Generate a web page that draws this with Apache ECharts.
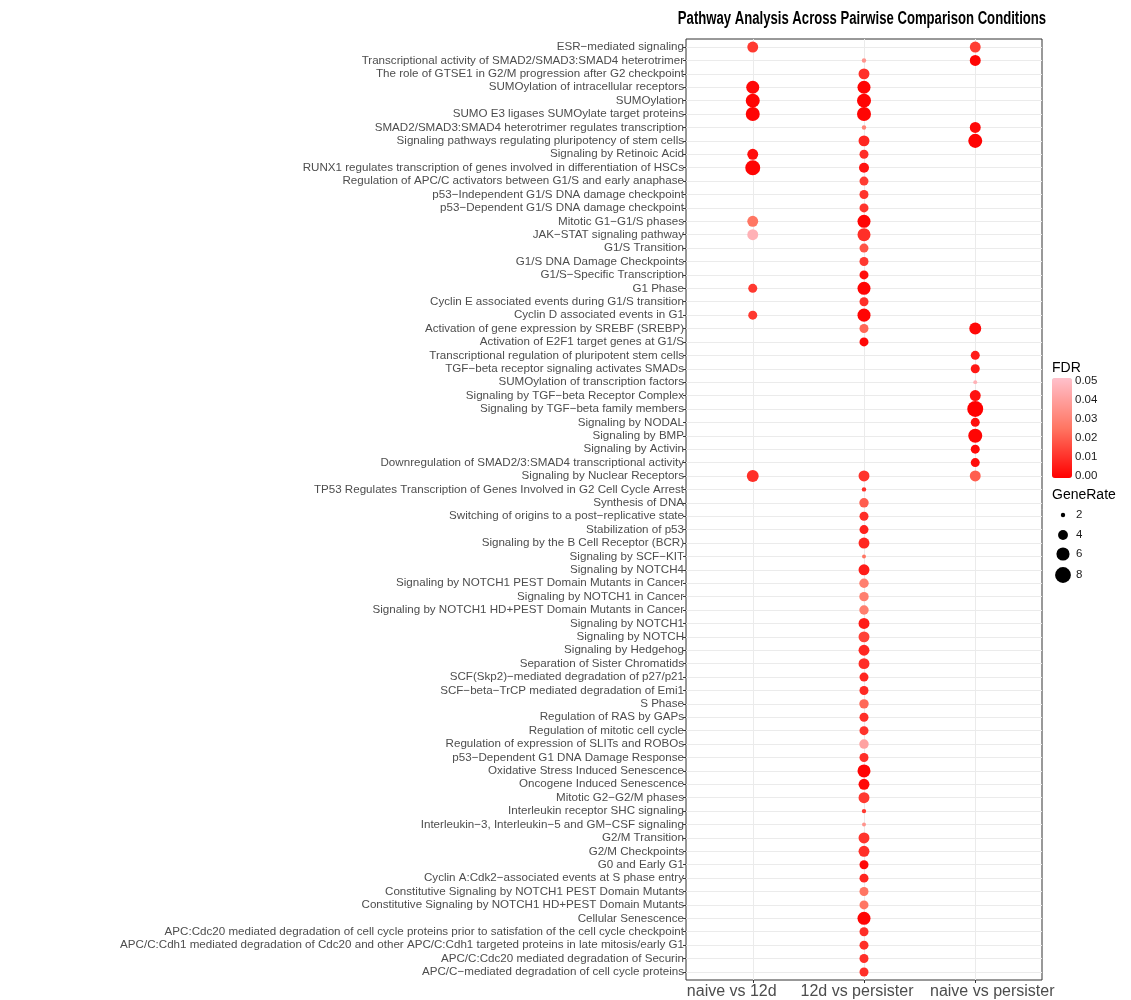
<!DOCTYPE html>
<html>
<head>
<meta charset="utf-8">
<script src="https://cdn.jsdelivr.net/npm/echarts@6/dist/echarts.min.js"></script>
<style>
  html, body { margin: 0; padding: 0; background: #fff; }
  #main { width: 1131px; height: 1000px; }
</style>
</head>
<body>
<div id="main"></div>
<script>
var conditions = ['naive vs 12d', '12d vs persister', 'naive vs persister'];

var pathways = [
  'ESR\u2212mediated signaling',
  'Transcriptional activity of SMAD2/SMAD3:SMAD4 heterotrimer',
  'The role of GTSE1 in G2/M progression after G2 checkpoint',
  'SUMOylation of intracellular receptors',
  'SUMOylation',
  'SUMO E3 ligases SUMOylate target proteins',
  'SMAD2/SMAD3:SMAD4 heterotrimer regulates transcription',
  'Signaling pathways regulating pluripotency of stem cells',
  'Signaling by Retinoic Acid',
  'RUNX1 regulates transcription of genes involved in differentiation of HSCs',
  'Regulation of APC/C activators between G1/S and early anaphase',
  'p53\u2212Independent G1/S DNA damage checkpoint',
  'p53\u2212Dependent G1/S DNA damage checkpoint',
  'Mitotic G1\u2212G1/S phases',
  'JAK\u2212STAT signaling pathway',
  'G1/S Transition',
  'G1/S DNA Damage Checkpoints',
  'G1/S\u2212Specific Transcription',
  'G1 Phase',
  'Cyclin E associated events during G1/S transition',
  'Cyclin D associated events in G1',
  'Activation of gene expression by SREBF (SREBP)',
  'Activation of E2F1 target genes at G1/S',
  'Transcriptional regulation of pluripotent stem cells',
  'TGF\u2212beta receptor signaling activates SMADs',
  'SUMOylation of transcription factors',
  'Signaling by TGF\u2212beta Receptor Complex',
  'Signaling by TGF\u2212beta family members',
  'Signaling by NODAL',
  'Signaling by BMP',
  'Signaling by Activin',
  'Downregulation of SMAD2/3:SMAD4 transcriptional activity',
  'Signaling by Nuclear Receptors',
  'TP53 Regulates Transcription of Genes Involved in G2 Cell Cycle Arrest',
  'Synthesis of DNA',
  'Switching of origins to a post\u2212replicative state',
  'Stabilization of p53',
  'Signaling by the B Cell Receptor (BCR)',
  'Signaling by SCF\u2212KIT',
  'Signaling by NOTCH4',
  'Signaling by NOTCH1 PEST Domain Mutants in Cancer',
  'Signaling by NOTCH1 in Cancer',
  'Signaling by NOTCH1 HD+PEST Domain Mutants in Cancer',
  'Signaling by NOTCH1',
  'Signaling by NOTCH',
  'Signaling by Hedgehog',
  'Separation of Sister Chromatids',
  'SCF(Skp2)\u2212mediated degradation of p27/p21',
  'SCF\u2212beta\u2212TrCP mediated degradation of Emi1',
  'S Phase',
  'Regulation of RAS by GAPs',
  'Regulation of mitotic cell cycle',
  'Regulation of expression of SLITs and ROBOs',
  'p53\u2212Dependent G1 DNA Damage Response',
  'Oxidative Stress Induced Senescence',
  'Oncogene Induced Senescence',
  'Mitotic G2\u2212G2/M phases',
  'Interleukin receptor SHC signaling',
  'Interleukin\u22123, Interleukin\u22125 and GM\u2212CSF signaling',
  'G2/M Transition',
  'G2/M Checkpoints',
  'G0 and Early G1',
  'Cyclin A:Cdk2\u2212associated events at S phase entry',
  'Constitutive Signaling by NOTCH1 PEST Domain Mutants',
  'Constitutive Signaling by NOTCH1 HD+PEST Domain Mutants',
  'Cellular Senescence',
  'APC:Cdc20 mediated degradation of cell cycle proteins prior to satisfation of the cell cycle checkpoint',
  'APC/C:Cdh1 mediated degradation of Cdc20 and other APC/C:Cdh1 targeted proteins in late mitosis/early G1',
  'APC/C:Cdc20 mediated degradation of Securin',
  'APC/C\u2212mediated degradation of cell cycle proteins'
];

// GeneRate per pathway (null = not significant in that comparison)
var geneNaive12d = [
  4.6, null, null, 5.9, 6.6, 6.6, null, null, 4.6, 7.3,
  null, null, null, 4.6, 4.6, null, null, null, 3.6, null,
  3.6, null, null, null, null, null, null, null, null, null,
  null, null, 5.2, null, null, null, null, null, null, null,
  null, null, null, null, null, null, null, null, null, null,
  null, null, null, null, null, null, null, null, null, null,
  null, null, null, null, null, null, null, null, null, null
];
var fdrNaive12d = [
  0.012, null, null, 0.002, 0.001, 0.001, null, null, 0.003, 0.001,
  null, null, null, 0.025, 0.045, null, null, null, 0.012, null,
  0.012, null, null, null, null, null, null, null, null, null,
  null, null, 0.010, null, null, null, null, null, null, null,
  null, null, null, null, null, null, null, null, null, null,
  null, null, null, null, null, null, null, null, null, null,
  null, null, null, null, null, null, null, null, null, null
];

var gene12dPersister = [
  null, 2.0, 4.6, 5.9, 6.6, 6.6, 2.0, 4.6, 3.6, 4.1,
  3.6, 3.6, 3.6, 5.9, 5.9, 3.6, 3.6, 3.6, 5.9, 3.6,
  5.9, 3.6, 3.6, null, null, null, null, null, null, null,
  null, null, 4.6, 2.0, 3.8, 3.6, 3.6, 4.6, 1.9, 4.6,
  3.8, 3.8, 3.8, 4.6, 4.6, 4.6, 4.6, 3.6, 3.6, 3.8,
  3.6, 3.6, 3.8, 3.6, 5.9, 4.6, 4.6, 2.0, 1.9, 4.6,
  4.6, 3.6, 3.6, 3.6, 3.6, 5.9, 3.6, 3.6, 3.6, 3.6
];
var fdr12dPersister = [
  null, 0.035, 0.010, 0.001, 0.001, 0.001, 0.030, 0.008, 0.010, 0.004,
  0.013, 0.011, 0.011, 0.001, 0.010, 0.018, 0.012, 0.003, 0.001, 0.010,
  0.001, 0.022, 0.002, null, null, null, null, null, null, null,
  null, null, 0.011, 0.010, 0.020, 0.010, 0.007, 0.008, 0.025, 0.006,
  0.028, 0.028, 0.028, 0.006, 0.014, 0.008, 0.010, 0.008, 0.009, 0.022,
  0.010, 0.011, 0.040, 0.010, 0.001, 0.002, 0.012, 0.012, 0.035, 0.011,
  0.010, 0.002, 0.008, 0.025, 0.025, 0.001, 0.010, 0.010, 0.010, 0.010
];

var geneNaivePersister = [
  4.6, 4.6, null, null, null, null, 4.6, 6.6, null, null,
  null, null, null, null, null, null, null, null, null, null,
  null, 5.2, null, 3.6, 3.6, 1.9, 4.6, 8.1, 3.6, 6.6,
  3.6, 3.6, 4.6, null, null, null, null, null, null, null,
  null, null, null, null, null, null, null, null, null, null,
  null, null, null, null, null, null, null, null, null, null,
  null, null, null, null, null, null, null, null, null, null
];
var fdrNaivePersister = [
  0.013, 0.001, null, null, null, null, 0.002, 0.0005, null, null,
  null, null, null, null, null, null, null, null, null, null,
  null, 0.002, null, 0.006, 0.005, 0.045, 0.004, 0.000, 0.003, 0.001,
  0.002, 0.003, 0.020, null, null, null, null, null, null, null,
  null, null, null, null, null, null, null, null, null, null,
  null, null, null, null, null, null, null, null, null, null,
  null, null, null, null, null, null, null, null, null, null
];

var fdrTicks = [0.00, 0.01, 0.02, 0.03, 0.04, 0.05];
var geneTicks = [2, 4, 6, 8];

function dotSize(g) {
  return 17 * Math.sqrt(Math.max(g - 1.5, 0) / 7.5);
}

var geneCols = [geneNaive12d, gene12dPersister, geneNaivePersister];
var fdrCols = [fdrNaive12d, fdr12dPersister, fdrNaivePersister];
var points = [];
for (var c = 0; c < conditions.length; c++) {
  for (var i = 0; i < pathways.length; i++) {
    if (geneCols[c][i] != null) {
      points.push([c, i, geneCols[c][i], fdrCols[c][i]]);
    }
  }
}

var rowIdx = pathways.map(function (p, i) { return i; });
var colIdx = conditions.map(function (p, i) { return i; });

var font = 'Liberation Sans, Arial, sans-serif';

// grid geometry
var gridLeft = 686, gridRight = 89, gridTop = 39, gridBottom = 18;
var xUnitPx = (1131 - gridLeft - gridRight) / 3.2;
// the x labels in the original sit a little off their ticks
var xLabelShiftPx = [-21, -7, 17];
var xLabelPos = colIdx.map(function (c) { return c + xLabelShiftPx[c] / xUnitPx; });

// title is a bit condensed in the original, so draw it squeezed
var graphics = [];
graphics.push({ type: 'text', x: 862, y: 19, scaleX: 0.75,
  style: { text: 'Pathway Analysis Across Pairwise Comparison Conditions',
    fontSize: 17.5, fontWeight: 'bold', fill: '#000', fontFamily: font,
    align: 'center', verticalAlign: 'middle' } });

// legend graphics (FDR bar ticks and GeneRate keys)
var barTop = 378, barH = 100, barLeft = 1052, barW = 20;
graphics.push({ type: 'text', left: 1052, top: 361,
  style: { text: 'FDR', fontSize: 14, fill: '#000', fontFamily: font } });
fdrTicks.forEach(function (t) {
  var y = 476 - t / 0.05 * 95;
  graphics.push({ type: 'line', shape: { x1: barLeft, y1: y, x2: barLeft + 4, y2: y },
    style: { stroke: '#fff', lineWidth: 1 } });
  graphics.push({ type: 'line', shape: { x1: barLeft + barW - 4, y1: y, x2: barLeft + barW, y2: y },
    style: { stroke: '#fff', lineWidth: 1 } });
  graphics.push({ type: 'text', x: 1075, y: y,
    style: { text: t.toFixed(2), fontSize: 11.5, fill: '#1A1A1A', verticalAlign: 'middle',
      fontFamily: font } });
});
graphics.push({ type: 'text', left: 1052, top: 488,
  style: { text: 'GeneRate', fontSize: 14, fill: '#000', fontFamily: font } });
var keyY = [515, 535, 554, 575];
geneTicks.forEach(function (g, k) {
  graphics.push({ type: 'circle', shape: { cx: 1063, cy: keyY[k], r: dotSize(g) / 2 },
    style: { fill: '#000' } });
  graphics.push({ type: 'text', x: 1076, y: keyY[k],
    style: { text: String(g), fontSize: 11.5, fill: '#1A1A1A', verticalAlign: 'middle',
      fontFamily: font } });
});

var chart = echarts.init(document.getElementById('main'));

var option = {
  backgroundColor: '#fff',
  animation: false,
  grid: {
    left: gridLeft, right: gridRight, top: gridTop, bottom: gridBottom,
    show: true, borderColor: '#333333', borderWidth: 1, backgroundColor: '#fff'
  },
  xAxis: {
    type: 'value',
    min: -0.6, max: 2.6,
    axisLine: { show: false, onZero: false },
    axisTick: { show: true, customValues: colIdx, length: 3, lineStyle: { color: '#333' } },
    axisLabel: {
      customValues: xLabelPos,
      formatter: function (v) { return conditions[Math.abs(Math.round(v))]; },
      fontSize: 16, color: '#4D4D4D', margin: 4,
      hideOverlap: false, showMinLabel: true, showMaxLabel: true,
      fontFamily: font
    },
    splitLine: { show: true, lineStyle: { color: '#EBEBEB', width: 1 } }
  },
  yAxis: {
    type: 'value',
    inverse: true,
    min: -0.6, max: 69.6,
    axisLine: { show: false, onZero: false },
    axisTick: { show: true, customValues: rowIdx, length: 3, lineStyle: { color: '#333' } },
    axisLabel: {
      customValues: rowIdx,
      formatter: function (v) { return pathways[Math.round(v)]; },
      fontSize: 11.6, color: '#4D4D4D', margin: 2,
      hideOverlap: false, showMinLabel: true, showMaxLabel: true,
      fontFamily: font
    },
    splitLine: { show: true, lineStyle: { color: '#EBEBEB', width: 1 } }
  },
  visualMap: {
    type: 'continuous',
    dimension: 3,
    min: 0, max: 0.05,
    calculable: false,
    realtime: false,
    left: barLeft, top: barTop,
    padding: 0,
    itemWidth: barW, itemHeight: barH,
    text: null,
    showLabel: false,
    inRange: { color: ['#FF0000', '#FF7663', '#FFC0CB'] },
    seriesIndex: 0
  },
  series: [{
    type: 'scatter',
    data: points,
    symbol: 'circle',
    symbolSize: function (val) { return dotSize(val[2]); },
    itemStyle: { opacity: 1 },
    z: 3
  }],
  graphic: graphics
};

chart.setOption(option);
</script>
</body>
</html>
